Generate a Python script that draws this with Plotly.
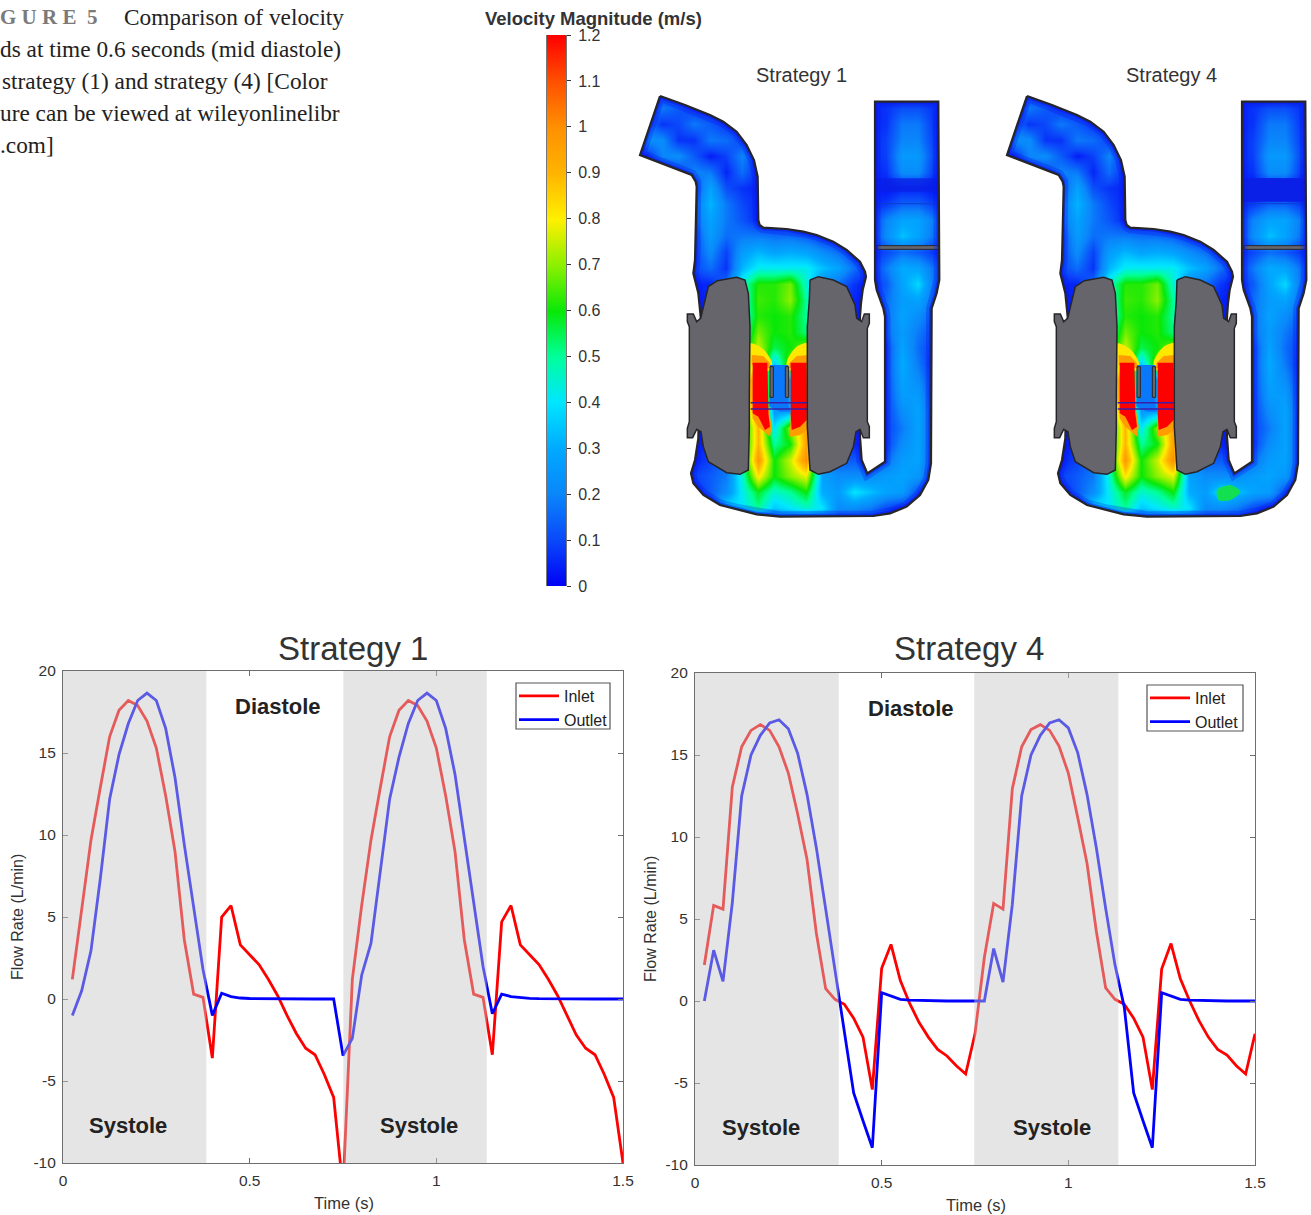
import plotly.graph_objects as go

W, H = 1311, 1215

# ---------- flow-rate data ----------
time_s = [0.025, 0.05, 0.075, 0.1, 0.125, 0.15, 0.175, 0.2, 0.225, 0.25, 0.275, 0.3, 0.325, 0.35, 0.375, 0.4, 0.425, 0.45, 0.475, 0.5,
          0.525, 0.55, 0.575, 0.6, 0.625, 0.65, 0.675, 0.7, 0.725, 0.75, 0.775, 0.8, 0.825, 0.85, 0.875, 0.9, 0.925, 0.95, 0.975, 1.0,
          1.025, 1.05, 1.075, 1.1, 1.125, 1.15, 1.175, 1.2, 1.225, 1.25, 1.275, 1.3, 1.325, 1.35, 1.375, 1.4, 1.425, 1.45, 1.475, 1.5]

s1_inlet = [1.2, 5.5, 9.7, 12.9, 16.0, 17.6, 18.2, 17.9, 16.95, 15.3, 12.4, 9.0, 3.6, 0.3, 0.1, -3.6, 5.0, 5.7, 3.3, 2.7,
            2.1, 1.2, 0.2, -1.0, -2.1, -3.0, -3.4, -4.6, -6.0, -11.6, 1.2, 5.7, 9.7, 12.9, 16.0, 17.6, 18.2, 17.9, 16.95, 15.3,
            12.4, 9.0, 3.6, 0.3, 0.1, -3.4, 4.7, 5.7, 3.3, 2.7, 2.1, 1.2, 0.2, -1.0, -2.2, -3.0, -3.4, -4.6, -6.0, -10.0]
s1_outlet = [-1.0, 0.5, 2.95, 7.35, 12.2, 14.9, 16.8, 18.2, 18.65, 18.2, 16.5, 13.5, 9.4, 5.7, 1.8, -1.0, 0.35, 0.15, 0.06, 0.03,
             0.02, 0.01, 0.0, 0.0, 0.0, 0.0, 0.0, 0.0, 0.0, -3.45, -2.4, 1.45, 3.4, 7.8, 12.2, 14.75, 16.8, 18.2, 18.65, 18.2,
             16.5, 13.7, 9.9, 6.1, 2.0, -0.9, 0.3, 0.15, 0.08, 0.04, 0.02, 0.01, 0.0, 0.0, 0.0, 0.0, 0.0, 0.0, 0.0, 0.0]
s4_inlet = [2.2, 5.83, 5.6, 13.05, 15.5, 16.5, 16.85, 16.5, 15.5, 13.9, 11.4, 8.65, 4.15, 0.75, 0.1, -0.2, -1.05, -2.2, -5.4, 2.0,
            3.45, 1.25, -0.15, -1.3, -2.2, -2.95, -3.35, -3.95, -4.45, -2.0, 2.65, 5.95, 5.6, 12.95, 15.5, 16.55, 16.85, 16.5, 15.55, 13.9,
            11.2, 8.4, 4.25, 0.8, 0.1, -0.2, -1.05, -2.2, -5.4, 1.95, 3.5, 1.35, 0.0, -1.2, -2.2, -2.95, -3.3, -3.95, -4.45, -2.0]
s4_outlet = [0.0, 3.1, 1.2, 6.0, 12.5, 15.0, 16.2, 16.95, 17.15, 16.6, 15.1, 12.6, 9.35, 5.65, 1.95, -1.65, -5.6, -7.3, -8.95, 0.5,
             0.3, 0.1, 0.05, 0.03, 0.02, 0.01, 0.0, 0.0, 0.0, 0.0, 0.0, 3.2, 1.15, 5.9, 12.5, 15.0, 16.2, 16.95, 17.15, 16.65,
             15.15, 12.6, 9.35, 5.65, 2.2, -0.4, -5.6, -7.3, -8.95, 0.5, 0.3, 0.1, 0.05, 0.03, 0.02, 0.01, 0.0, 0.0, 0.0, 0.0]

x_ticks = [0, 0.5, 1, 1.5]
x_labels = ["0", "0.5", "1", "1.5"]
y_ticks = [-10, -5, 0, 5, 10, 15, 20]
y_labels = ["-10", "-5", "0", "5", "10", "15", "20"]
s1_systole = [(0, 0.384), (0.751, 1.135)]
s4_systole = [(0, 0.385), (0.748, 1.134)]

# ---------- colour bar ----------
bar_levels = [0, 0.1, 0.2, 0.3, 0.4, 0.5, 0.6, 0.7, 0.8, 0.9, 1.0, 1.1, 1.2]
bar_ticks = [0, 0.1, 0.2, 0.3, 0.4, 0.5, 0.6, 0.7, 0.8, 0.9, 1, 1.1, 1.2]
bar_labels = ["0", "0.1", "0.2", "0.3", "0.4", "0.5", "0.6", "0.7", "0.8", "0.9", "1", "1.1", "1.2"]
bar_colors = ["#0000f5", "#0a48fa", "#0a86fa", "#00aaff", "#00e6ff", "#00ff9a", "#08e808", "#8cf000",
              "#fff000", "#ffb400", "#ff9000", "#ff5000", "#ff0000"]
DEEP = "#0a20e6"
AZURE = "#0a78fa"
YELLOW = "#ffe800"
ORANGE = "#ff9c00"
RED = "#ff0000"
GRAY = "#65656b"
WALL = "#26262a"

# ---------- velocity field (m/s), on a coarse grid ----------
field_x = [0, 48, 96, 144, 192, 240, 288, 336, 384, 432, 480, 528, 576, 624, 672, 720, 768, 816, 864, 912, 960]
field_y = [96, 144, 192, 240, 288, 336, 384, 432, 480, 528, 576, 624, 672, 720, 768, 816, 864, 912, 960, 1008, 1056, 1104, 1152, 1200, 1248, 1296, 1344, 1392]
velocity_field = [
    [.05, .05, .05, .05, .05, .05, .05, .05, .05, .05, .05, .05, .05, .05, .05, .05, .05, .05, .05, .05, .05],
    [.05, .07, .18, .13, .07, .05, .05, .05, .05, .05, .05, .05, .05, .05, .05, .05, .07, .11, .11, .07, .05],
    [.05, .18, .07, .10, .18, .13, .07, .05, .05, .05, .05, .05, .05, .05, .05, .05, .07, .18, .18, .07, .05],
    [.05, .22, .22, .07, .07, .18, .16, .09, .05, .05, .05, .05, .05, .05, .05, .05, .09, .20, .20, .08, .05],
    [.05, .05, .20, .22, .13, .04, .09, .20, .05, .05, .05, .05, .05, .05, .05, .05, .09, .25, .25, .09, .05],
    [.05, .05, .05, .10, .20, .18, .05, .16, .05, .05, .05, .05, .05, .05, .05, .05, .07, .22, .22, .07, .05],
    [.05, .05, .05, .05, .10, .28, .11, .07, .05, .05, .05, .05, .05, .05, .05, .05, .03, .05, .05, .03, .05],
    [.05, .05, .05, .05, .16, .32, .18, .10, .05, .05, .05, .05, .05, .05, .05, .05, .08, .14, .14, .08, .05],
    [.05, .05, .05, .05, .16, .28, .18, .12, .05, .05, .05, .05, .05, .05, .05, .05, .20, .28, .28, .18, .05],
    [.05, .05, .05, .05, .10, .26, .16, .18, .18, .16, .16, .13, .07, .05, .05, .05, .22, .34, .28, .16, .05],
    [.05, .05, .05, .05, .10, .22, .09, .26, .32, .28, .30, .28, .22, .16, .07, .05, .10, .16, .13, .07, .05],
    [.05, .05, .05, .05, .10, .16, .07, .32, .42, .42, .42, .42, .34, .28, .16, .05, .18, .30, .28, .16, .05],
    [.05, .05, .05, .05, .05, .05, .16, .45, .62, .62, .68, .45, .22, .16, .07, .05, .13, .28, .38, .16, .05],
    [.05, .05, .05, .05, .05, .05, .16, .42, .64, .62, .70, .50, .22, .05, .05, .05, .16, .26, .28, .16, .05],
    [.05, .05, .05, .05, .05, .05, .16, .42, .62, .60, .62, .50, .22, .05, .05, .05, .16, .28, .22, .13, .05],
    [.05, .05, .05, .05, .05, .05, .16, .45, .68, .60, .62, .52, .22, .05, .05, .05, .16, .26, .18, .10, .05],
    [.05, .05, .05, .05, .05, .05, .16, .50, .75, .55, .60, .70, .22, .05, .05, .05, .10, .28, .16, .07, .05],
    [.05, .05, .05, .05, .05, .05, .16, .60, .85, .35, .70, .90, .22, .05, .05, .05, .10, .30, .18, .05, .05],
    [.05, .05, .05, .05, .05, .05, .16, .70, 1.1, .22, .28, 1.1, .22, .05, .05, .05, .10, .28, .22, .07, .05],
    [.05, .05, .05, .05, .05, .05, .16, .70, 1.1, .22, .28, 1.1, .22, .05, .05, .05, .09, .26, .26, .07, .05],
    [.05, .05, .05, .05, .05, .05, .16, .60, 1.0, .26, .30, 1.1, .22, .05, .05, .05, .09, .22, .28, .09, .05],
    [.05, .05, .05, .05, .05, .05, .16, .50, .90, .40, .70, .95, .22, .05, .05, .05, .09, .18, .28, .09, .05],
    [.05, .05, .05, .05, .05, .05, .16, .50, .90, .50, .60, .95, .22, .05, .05, .05, .09, .22, .28, .10, .05],
    [.05, .05, .05, .05, .05, .09, .16, .50, .98, .60, .75, 1.0, .22, .13, .13, .07, .16, .26, .28, .09, .05],
    [.05, .05, .05, .05, .09, .13, .18, .45, .82, .60, .70, .78, .28, .22, .22, .22, .26, .28, .25, .07, .05],
    [.05, .05, .05, .05, .05, .13, .22, .42, .58, .45, .50, .60, .30, .26, .40, .34, .28, .26, .10, .05, .05],
    [.05, .05, .05, .05, .05, .09, .42, .40, .50, .35, .40, .45, .40, .22, .22, .18, .10, .05, .05, .05, .05],
    [.05, .05, .05, .05, .05, .05, .05, .05, .05, .05, .05, .05, .05, .05, .05, .05, .05, .05, .05, .05, .05],
]

# ---------- device geometry, in units of a third of a page pixel ----------
body_x = [90, 165, 240, 280, 320, 350, 372, 383, 385, 389, 400, 470, 520, 560, 610, 650, 690, 705, 708, 698, 693, 690, 690, 695, 712, 765, 765, 760, 740, 735, 735, 925, 928, 920, 905, 903, 895, 870, 830, 780, 730, 450, 380, 330, 270, 220, 190, 183, 190, 195, 205, 212, 205, 190, 195, 200, 197, 185, 30, 90]
body_y = [108, 135, 165, 185, 215, 255, 300, 350, 480, 495, 503, 507, 515, 525, 545, 570, 605, 635, 650, 690, 730, 770, 1130, 1200, 1240, 1205, 770, 745, 690, 660, 125, 125, 660, 700, 745, 1210, 1260, 1305, 1340, 1360, 1368, 1370, 1363, 1350, 1335, 1305, 1270, 1240, 1215, 1200, 1135, 770, 700, 640, 600, 380, 365, 345, 285, 108]
mask_x = [-5, -5, 965, 965, -5, -5] + body_x + [-5]
mask_y = [108, 1415, 1415, -5, -5, 108] + body_y + [108]
gray_left_x = [235, 262, 320, 345, 355, 360, 358, 358, 355, 330, 290, 235, 220, 213, 200, 188, 172, 172, 178, 178, 172, 172, 190, 200, 212, 222, 235]
gray_left_y = [680, 662, 652, 660, 700, 800, 1000, 1100, 1230, 1243, 1238, 1205, 1160, 1115, 1108, 1133, 1133, 1105, 1085, 800, 785, 762, 762, 785, 775, 730, 680]
gray_right_x = [540, 565, 610, 650, 675, 680, 695, 703, 718, 718, 712, 712, 718, 718, 700, 690, 678, 670, 650, 600, 565, 540, 532, 532, 538, 540]
gray_right_y = [660, 650, 660, 680, 735, 775, 785, 762, 762, 790, 805, 1085, 1100, 1133, 1133, 1108, 1115, 1160, 1210, 1235, 1243, 1230, 1100, 800, 720, 660]

# sharp-edged patches over the smooth field: (colour, x list, y list, spline?)
patches = [
    ("rgba(10,32,230,0.75)", [738, 925, 925, 738, 738], [355, 355, 395, 395, 355], False),
    (YELLOW, [362, 362, 400, 425, 425, 362], [920, 850, 868, 905, 930, 920], True),
    (YELLOW, [535, 535, 500, 470, 475, 535], [920, 850, 860, 905, 930, 920], True),
    (ORANGE, [365, 365, 400, 420, 420, 365], [915, 885, 888, 910, 925, 915], False),
    (ORANGE, [535, 535, 500, 478, 478, 535], [915, 885, 888, 910, 925, 915], False),
    (ORANGE, [368, 415, 425, 420, 385, 368, 368], [1040, 1040, 1100, 1130, 1100, 1075, 1040], False),
    (ORANGE, [482, 530, 530, 510, 480, 482], [1060, 1060, 1110, 1125, 1130, 1060], False),
    (RED, [368, 412, 415, 415, 420, 405, 385, 368, 368], [908, 908, 1040, 1060, 1100, 1110, 1070, 1060, 908], False),
    (RED, [482, 530, 530, 510, 485, 482, 482], [908, 908, 1080, 1100, 1110, 1060, 908], False),
    (AZURE, [420, 475, 475, 480, 450, 418, 420], [915, 915, 1030, 1055, 1055, 1040, 915], False),
]
slat_left_x = [420, 430, 430, 420, 420]
slat_right_x = [466, 476, 476, 466, 466]
slat_y = [920, 920, 1012, 1012, 920]
bar_x = [742, 928, 928, 742, 742]
bar_y = [557, 557, 568, 568, 557]
lines_x = [362, 533]
line_upper_y = [1028, 1028]
line_lower_y = [1047, 1047]
band_line_x = [738, 925]
band_line_y = [431, 431]

# Strategy 4 differs from Strategy 1 in a few patches
s4_patches = [
    (DEEP, [738, 925, 925, 738, 738], [355, 355, 425, 425, 355], False),
    ("#12e050", [660, 700, 730, 700, 665, 660], [1290, 1275, 1295, 1320, 1320, 1290], True),
]


def px_x(px):
    return px / W


def px_y(px):
    return 1 - px / H


fig = go.Figure()


def add_flow(t, inlet, outlet, xa, ya, leg):
    fig.add_trace(go.Scatter(x=t, y=inlet, mode="lines", name="Inlet", line=dict(color="#ff0000", width=2.8),
                             xaxis=xa, yaxis=ya, legend=leg, hoverinfo="skip"))
    fig.add_trace(go.Scatter(x=t, y=outlet, mode="lines", name="Outlet", line=dict(color="#0000ff", width=2.8),
                             xaxis=xa, yaxis=ya, legend=leg, hoverinfo="skip"))


add_flow(time_s, s1_inlet, s1_outlet, "x", "y", "legend")
add_flow(time_s, s4_inlet, s4_outlet, "x2", "y2", "legend2")

jet = [[v / 1.2, c] for v, c in zip(bar_levels, bar_colors)]

# colour bar
fig.add_trace(go.Heatmap(x=[0, 1], y=bar_levels, z=[[v, v] for v in bar_levels], xaxis="x3", yaxis="y3",
                         zmin=0, zmax=1.2, zsmooth="best", showscale=False, hoverinfo="skip", colorscale=jet))


def poly(x, y, color, xa, ya, spline=False, line_color=None, line_width=0):
    fig.add_trace(go.Scatter(x=x, y=y, mode="lines", fill="toself", fillcolor=color, xaxis=xa, yaxis=ya,
                             showlegend=False, hoverinfo="skip",
                             line=dict(color=line_color or "rgba(0,0,0,0)", width=line_width,
                                       shape="spline" if spline else "linear", smoothing=0.8)))


def rule(x, y, color, width, xa, ya):
    fig.add_trace(go.Scatter(x=x, y=y, mode="lines", xaxis=xa, yaxis=ya, showlegend=False, hoverinfo="skip",
                             line=dict(color=color, width=width)))


def draw_device(xa, ya, extra):
    fig.add_trace(go.Heatmap(x=field_x, y=field_y, z=velocity_field, xaxis=xa, yaxis=ya, zmin=0, zmax=1.2,
                             zsmooth="best", showscale=False, hoverinfo="skip", colorscale=jet))
    for c, x, y, s in patches + extra:
        poly(x, y, c, xa, ya, s)
    for sx in (slat_left_x, slat_right_x):
        poly(sx, slat_y, GRAY, xa, ya, line_color=WALL, line_width=1)
    poly(bar_x, bar_y, GRAY, xa, ya, line_color=WALL, line_width=1)
    rule(lines_x, line_upper_y, "#3a1ea8", 1.5, xa, ya)
    rule(lines_x, line_lower_y, "#3a1ea8", 1.5, xa, ya)
    rule(band_line_x, band_line_y, "#0a40d0", 1, xa, ya)
    # slow flow next to the walls
    rule(body_x, body_y, "rgba(10,20,235,0.28)", 11, xa, ya)
    rule(body_x, body_y, "rgba(10,20,235,0.45)", 5, xa, ya)
    poly(mask_x, mask_y, "white", xa, ya)
    rule(body_x, body_y, WALL, 2.2, xa, ya)
    poly(gray_left_x, gray_left_y, GRAY, xa, ya, line_color=WALL, line_width=1.5)
    poly(gray_right_x, gray_right_y, GRAY, xa, ya, line_color=WALL, line_width=1.5)


draw_device("x4", "y4", [])
draw_device("x5", "y5", s4_patches)

axis_style = dict(showline=True, mirror="ticks", linecolor="#6e6e6e", linewidth=1.2, ticks="inside", ticklen=5,
                  tickcolor="#6e6e6e", showgrid=False, zeroline=False, automargin=False, ticklabelstandoff=3,
                  tickfont=dict(family="Liberation Sans", size=15.5, color="#333333"))
hidden = dict(visible=False, showgrid=False, zeroline=False, automargin=False)


def legend_style(left, top):
    return dict(x=px_x(left), y=px_y(top), xanchor="left", yanchor="top", bgcolor="rgba(0,0,0,0)", borderwidth=0,
                font=dict(family="Liberation Sans", size=16, color="#222222"), itemwidth=40, tracegroupgap=0)


layout = dict(
    template="none", width=W, height=H, margin=dict(l=0, r=0, t=0, b=0, autoexpand=False), paper_bgcolor="white", plot_bgcolor="white",
    font=dict(family="Liberation Sans", color="#333333"),
    xaxis=dict(domain=[px_x(63), px_x(623)], range=[0, 1.5], tickvals=x_ticks, ticktext=x_labels, anchor="y", **axis_style),
    yaxis=dict(domain=[px_y(1163), px_y(671)], range=[-10, 20], tickvals=y_ticks, ticktext=y_labels, anchor="x", **axis_style),
    xaxis2=dict(domain=[px_x(695), px_x(1255)], range=[0, 1.5], tickvals=x_ticks, ticktext=x_labels, anchor="y2", **axis_style),
    yaxis2=dict(domain=[px_y(1165), px_y(673)], range=[-10, 20], tickvals=y_ticks, ticktext=y_labels, anchor="x2", **axis_style),
    xaxis3=dict(domain=[px_x(547), px_x(566)], range=[0, 1], anchor="y3", **hidden),
    yaxis3=dict(domain=[px_y(586), px_y(35)], range=[0, 1.2], anchor="x3", side="right", tickvals=bar_ticks, ticktext=bar_labels,
                ticks="outside", ticklen=4, tickcolor="#333333", showline=True, linecolor="#777777", linewidth=1, mirror=True,
                showgrid=False, zeroline=False, automargin=False, ticklabelstandoff=4,
                tickfont=dict(family="Liberation Sans", size=16, color="#333333")),
    xaxis4=dict(domain=[px_x(630), px_x(950)], range=[0, 960], anchor="y4", **hidden),
    yaxis4=dict(domain=[px_y(530), px_y(60)], range=[1410, 0], anchor="x4", **hidden),
    xaxis5=dict(domain=[px_x(997), 1], range=[0, 942], anchor="y5", **hidden),
    yaxis5=dict(domain=[px_y(530), px_y(60)], range=[1410, 0], anchor="x5", **hidden),
    legend=legend_style(514, 679),
    legend2=legend_style(1145, 681),
)
fig.update_layout(**layout)

# systole bands sit above the curves and wash them out, as in the reference
for (a, b) in s1_systole:
    fig.add_shape(type="rect", xref="x", yref="y", x0=a, x1=b, y0=-10, y1=20, layer="above", line_width=0,
                  fillcolor="rgba(198,198,198,0.455)")
for (a, b) in s4_systole:
    fig.add_shape(type="rect", xref="x2", yref="y2", x0=a, x1=b, y0=-10, y1=20, layer="above", line_width=0,
                  fillcolor="rgba(198,198,198,0.455)")

# legend frames
for (x0, x1, y0, y1) in [(516, 610, 683, 729), (1147, 1243, 685, 731)]:
    fig.add_shape(type="rect", xref="paper", yref="paper", x0=px_x(x0), x1=px_x(x1), y0=px_y(y1), y1=px_y(y0),
                  layer="above", line=dict(color="#555555", width=1.2), fillcolor="white")


def label(text, x, y, size, color="#222222", bold=False, family="Liberation Sans", angle=0, xanchor="center"):
    fig.add_annotation(xref="paper", yref="paper", x=px_x(x), y=px_y(y), text=f"<b>{text}</b>" if bold else text,
                       showarrow=False, xanchor=xanchor, yanchor="middle", textangle=angle,
                       font=dict(family=family, size=size, color=color))


label("Strategy 1", 353, 648, 33, "#333333")
label("Strategy 4", 969, 648, 33, "#333333")
label("Diastole", 278, 706, 22, bold=True)
label("Systole", 128, 1125, 22, bold=True)
label("Systole", 419, 1125, 22, bold=True)
label("Diastole", 911, 708, 22, bold=True)
label("Systole", 761, 1127, 22, bold=True)
label("Systole", 1052, 1127, 22, bold=True)
label("Time (s)", 344, 1203, 16.5, "#333333")
label("Time (s)", 976, 1205, 16.5, "#333333")
label("Flow Rate (L/min)", 17, 917, 16, "#333333", angle=-90)
label("Flow Rate (L/min)", 650, 919, 16, "#333333", angle=-90)
label("Strategy 1", 801, 75, 20, "#333333")
label("Strategy 4", 1171, 75, 20, "#333333")
label("Velocity Magnitude (m/s)", 593, 18, 18.5, "#333333", bold=True)

SERIF = "Liberation Serif"
label("<b>G U R E  5</b>", -2, 17, 21, "#7a7a7a", family=SERIF, xanchor="left")
label("Comparison of velocity", 122, 17, 23.3, "#222222", family=SERIF, xanchor="left")
label("ds at time 0.6 seconds (mid diastole)", -2, 49, 23.3, "#222222", family=SERIF, xanchor="left")
label("strategy (1) and strategy (4) [Color", 0, 81, 23.3, "#222222", family=SERIF, xanchor="left")
label("ure can be viewed at wileyonlinelibr", -2, 113, 23.3, "#222222", family=SERIF, xanchor="left")
label(".com]", -2, 145, 23.3, "#222222", family=SERIF, xanchor="left")

fig.write_html("out.html", config={"displayModeBar": False},
               post_script="document.body.style.margin='0';document.body.style.overflow='hidden';")
